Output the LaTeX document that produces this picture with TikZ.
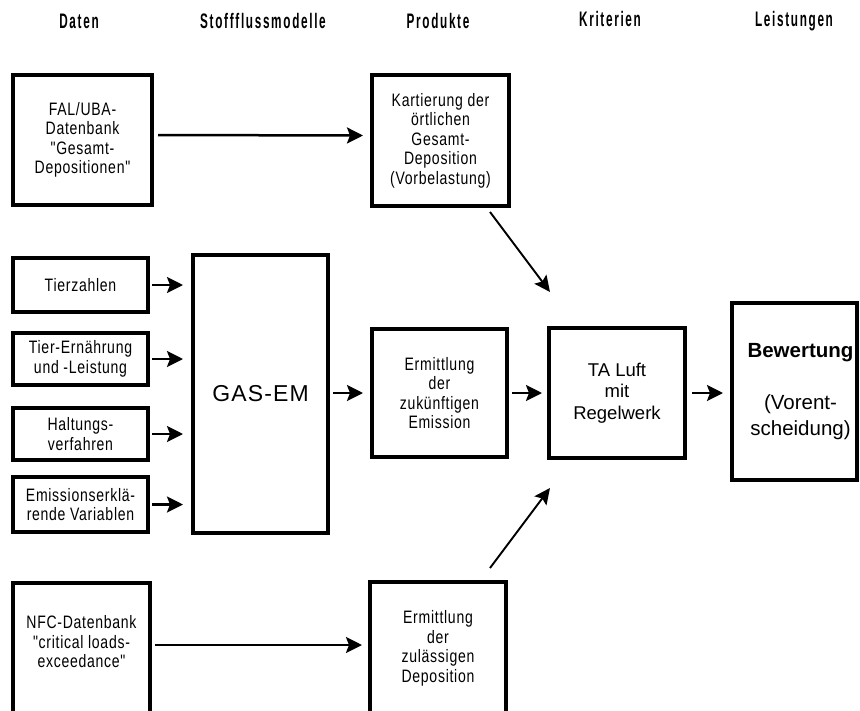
\documentclass[tikz,border=0pt]{standalone}
\usepackage{fontspec}
\setmainfont{Liberation Sans}
\newfontfamily\hdfont[FakeStretch=0.56,LetterSpace=8,Ligatures=CommonOff]{Liberation Sans}
\newfontfamily\bxfont[FakeStretch=0.78,LetterSpace=4]{Liberation Sans}
\newfontfamily\gsfont[LetterSpace=5]{Liberation Sans}
\usetikzlibrary{arrows.meta}
\newcommand\bxtext{\bxfont\fontsize{18pt}{19.5pt}\selectfont}
\newcommand\hdtext{\hdfont\bfseries\fontsize{21pt}{24pt}\selectfont}
\tikzset{
  box/.style={draw, line width=3.1pt, inner sep=0pt, outer sep=0pt, align=center, font=\bxtext},
  txt/.style={inner sep=0pt, align=center, font=\bxtext},
  hd/.style={anchor=base, inner sep=0pt, font=\hdtext},
  arr/.style={line width=2.5pt, -{Stealth[length=16pt,width=16pt,inset=3pt]}},
  diag/.style={line width=1.9pt, -{Stealth[length=16pt,width=15pt,inset=3pt]}},
}
\begin{document}
\begin{tikzpicture}[x=1pt,y=-1pt]
\useasboundingbox (0,0) rectangle (860,710);
\clip (0,0) rectangle (860,710);
% headers
\node[hd] (h1) at (79,28) {Daten};
\node[hd] (h2) at (263,28) {Stoffflussmodelle};
\node[hd] (h3) at (438,28) {Produkte};
\node[hd] (h4) at (610,26) {Kriterien};
\node[hd] (h5) at (794,26) {Leistungen};
% boxes
\node[box, minimum width=139pt, minimum height=130pt] (fal) at (82.5,140)
  {FAL/UBA-\\Datenbank\\"Gesamt-\\Depositionen"};
\node[box, minimum width=137pt, minimum height=131pt] (kart) at (440.5,140.5)
  {Kartierung der\\örtlichen\\Gesamt-\\Deposition\\(Vorbelastung)};
\node[box, minimum width=135pt, minimum height=54pt] (tier) at (80.5,285) {Tierzahlen};
\node[box, minimum width=135pt, minimum height=52pt] (tiere) at (80.5,359) {Tier-Ernährung\\und -Leistung};
\node[box, minimum width=135pt, minimum height=52pt] (halt) at (80.5,434) {Haltungs-\\verfahren};
\node[box, minimum width=135pt, minimum height=55pt] (emis) at (80.5,504.5) {Emissionserklä-\\rende Variablen};
\node[box, minimum width=135pt, minimum height=278pt, font=\gsfont\fontsize{23pt}{26pt}\selectfont] (gas) at (260.5,394) {GAS-EM};
\node[box, minimum width=135pt, minimum height=128pt] (ermz) at (439.5,393)
  {Ermittlung\\der\\zukünftigen\\Emission};
\node[box, minimum width=136pt, minimum height=130pt, font=\fontsize{18.5pt}{21.5pt}\selectfont] (ta) at (617,393)
  {TA Luft\\mit\\Regelwerk};
\node[box, minimum width=125pt, minimum height=177pt] (bew) at (794.5,391.5) {};
\node[txt, font=\fontsize{20.5pt}{26pt}\selectfont] (bewt) at ([xshift=6pt]bew.center)
  {\textbf{Bewertung}\\[26pt](Vorent-\\scheidung)};
\node[box, minimum width=137pt, minimum height=132pt] (nfc) at (81.5,649) {};
\node[txt] (nfct) at ([yshift=7pt]nfc.center)
  {NFC-Datenbank\\"critical loads-\\exceedance"};
\node[box, minimum width=136pt, minimum height=133pt] (ermd) at (438,648.5)
  {Ermittlung\\der\\zulässigen\\Deposition};
% connectors
\draw[arr] ([shift={(6,-5)}]fal.east) -- ([shift={(-9,-5)}]kart.west);
\draw[arr] ([xshift=4pt]tier.east) -- ([xshift=-10pt]gas.west |- tier.east);
\draw[arr] ([xshift=4pt]tiere.east) -- ([xshift=-10pt]gas.west |- tiere.east);
\draw[arr] ([xshift=4pt]halt.east) -- ([xshift=-10pt]gas.west |- halt.east);
\draw[arr] ([xshift=4pt]emis.east) -- ([xshift=-10pt]gas.west |- emis.east);
\draw[arr] ([xshift=5pt]ermz.west -| gas.east) -- ([xshift=-9pt]ermz.west);
\draw[arr] ([xshift=5pt]ermz.east) -- ([xshift=-7pt]ta.west);
\draw[arr] ([xshift=7pt]ta.east) -- ([xshift=-9pt]bew.west |- ta.east);
\draw[diag] ([shift={(-19,6)}]kart.south east) -- ([shift={(1,-36)}]ta.north west);
\draw[diag] ([shift={(-16,-14)}]ermd.north east) -- ([shift={(1,30)}]ta.south west);
\draw[arr] ([shift={(5,-4)}]nfc.east) -- ([shift={(-8,-3.5)}]ermd.west);
\end{tikzpicture}
\end{document}
